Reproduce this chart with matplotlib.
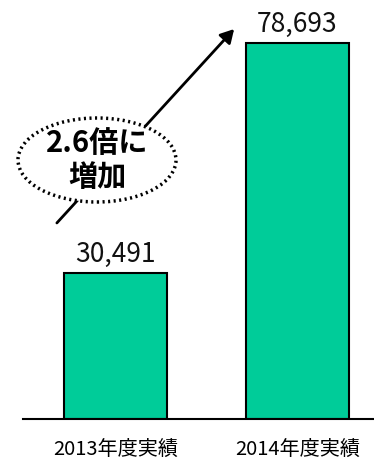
import matplotlib
matplotlib.use("Agg")
import matplotlib.pyplot as plt
from matplotlib.patches import Ellipse, FancyArrowPatch

plt.rcParams['font.family'] = ['Noto Sans CJK JP', 'DejaVu Sans']

# data
categories = ['2013年度実績', '2014年度実績']
values = [30491, 78693]
value_labels = ['30,491', '78,693']
callout = '2.6倍に\n増加'

W, H = 374, 462
fig = plt.figure(figsize=(W / 100, H / 100), dpi=100)


def px(x, y):
    # pixel position -> figure fraction
    return x / W, 1 - y / H


# axes from x=23..374 px, baseline at y=419 px
ax = fig.add_axes([23 / W, 1 - 419 / H, (W - 23) / W, 419 / H])
ax.bar(range(len(values)), values, width=0.566, color='#00CC99',
       edgecolor='black', linewidth=1.5, zorder=2)
ax.set_xlim(-0.508, 1.42)
ax.set_ylim(0, 87700)

for i, (v, lab) in enumerate(zip(values, value_labels)):
    ax.annotate(lab, (i, v), xytext=(0, 4), textcoords='offset points',
                ha='center', va='bottom', fontsize=19, color='#111111')

for s in ['top', 'right', 'left']:
    ax.spines[s].set_visible(False)
ax.spines['bottom'].set_linewidth(1.5)
ax.set_yticks([])
ax.set_xticks(range(len(categories)))
ax.set_xticklabels(categories, fontsize=14.5)
ax.tick_params(axis='x', length=0, pad=14)

# growth arrow
fig.add_artist(FancyArrowPatch(
    px(55, 225), px(236, 27), transform=fig.transFigure,
    arrowstyle='-|>,head_length=8,head_width=4.5', color='black',
    linewidth=2, zorder=3))

# dotted callout
cx, cy = px(97, 160)
fig.add_artist(Ellipse((cx, cy), 158 / W, 84 / H, transform=fig.transFigure,
                       facecolor='white', edgecolor='black', linewidth=2.5,
                       linestyle=(0, (0.6, 1.0)), zorder=4))
fig.text(cx, cy, callout, ha='center', va='center', fontsize=21,
         fontweight='bold', linespacing=1.2, zorder=5)

fig.savefig('out.png', dpi=100)
